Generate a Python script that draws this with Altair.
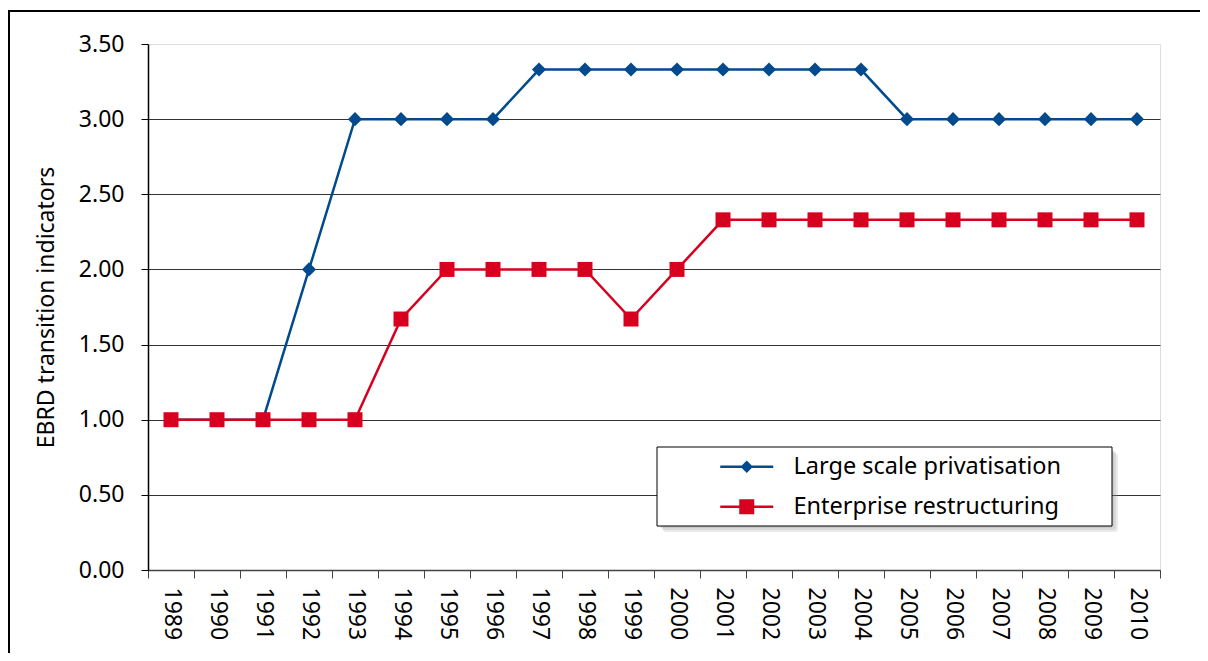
import altair as alt
import pandas as pd

years = list(range(1989, 2011))
privatisation = [1.00, 1.00, 1.00, 2.00, 3.00, 3.00, 3.00, 3.00, 3.33, 3.33, 3.33,
                 3.33, 3.33, 3.33, 3.33, 3.33, 3.00, 3.00, 3.00, 3.00, 3.00, 3.00]
restructuring = [1.00, 1.00, 1.00, 1.00, 1.00, 1.67, 2.00, 2.00, 2.00, 2.00, 1.67,
                 2.00, 2.33, 2.33, 2.33, 2.33, 2.33, 2.33, 2.33, 2.33, 2.33, 2.33]
series_names = ["Large scale privatisation", "Enterprise restructuring"]
series_colors = ["#004a8d", "#d7001f"]
y_ticks = [0.0, 0.5, 1.0, 1.5, 2.0, 2.5, 3.0, 3.5]

FONT = "Noto Sans"

# legend symbols: line + marker (custom paths, unit = 10 px)
diamond_path = ("M-2.65,-0.12 L2.65,-0.12 L2.65,0.12 L-2.65,0.12 Z "
                "M0,-0.62 L0.62,0 L0,0.62 L-0.62,0 Z")
square_path = ("M-2.65,-0.12 L2.65,-0.12 L2.65,0.12 L-2.65,0.12 Z "
               "M-0.75,-0.75 L0.75,-0.75 L0.75,0.75 L-0.75,0.75 Z")

x_enc = alt.X("year:O", title=None, bandPosition=0.5,
              scale=alt.Scale(type="band", paddingInner=0, paddingOuter=0),
              axis=alt.Axis(labelAngle=90, tickBand="extent", labelFontSize=23,
                            labelColor="black", labelFont=FONT, tickSize=8,
                            tickColor="#444444", domainColor="#444444",
                            domainWidth=1.5, labelPadding=9, grid=False))
y_enc = alt.Y("value:Q", title="EBRD transition indicators",
              scale=alt.Scale(domain=[0, 3.5], nice=False, zero=True),
              axis=alt.Axis(values=y_ticks, format=".2f", labelFontSize=23,
                            labelColor="black", labelFont=FONT, tickSize=7,
                            tickColor="black", domainColor="black", domainWidth=1.5,
                            labelPadding=17, titleFontSize=23, titleFont=FONT,
                            titleFontWeight="normal", titleColor="black",
                            titlePadding=20, gridColor="#333333", gridWidth=1,
                            gridOpacity=alt.condition("datum.value >= 3.5",
                                                      alt.value(0), alt.value(1))))


def series_layer(name, vals, color, shape, size, sym_path, leg_y):
    d = pd.DataFrame({"year": [str(y) for y in years], "value": vals,
                      "series": [name] * len(years)})
    legend = alt.Legend(
        title=None, orient="none", legendX=587, legendY=leg_y,
        symbolSize=400, symbolType=sym_path, symbolFillColor=color,
        symbolStrokeColor=color, symbolStrokeWidth=0, symbolOpacity=1,
        labelOffset=35, labelFontSize=23.5, labelFont=FONT, labelColor="black",
        padding=0, labelLimit=400)
    col = alt.Color("series:N", scale=alt.Scale(domain=[name], range=[color]),
                    legend=legend)
    line = alt.Chart(d).mark_line(strokeWidth=2.5).encode(x=x_enc, y=y_enc, color=col)
    pts = alt.Chart(d).mark_point(filled=True, opacity=1, shape=shape, size=size).encode(
        x=x_enc, y=y_enc, color=col)
    return alt.layer(line, pts)


blue = series_layer(series_names[0], privatisation, series_colors[0], "diamond", 200,
                    diamond_path, 411)
red = series_layer(series_names[1], restructuring, series_colors[1], "square", 225,
                   square_path, 451)

one = alt.Data(values=[{"k": 1}])
frame = alt.Chart(one).mark_rect(fill=None, stroke="black", strokeWidth=2).encode(
    x=alt.value(-139), x2=alt.value(1400), y=alt.value(-33), y2=alt.value(900))
shadow = alt.layer(*[
    alt.Chart(one).mark_rect(fill="#888888", opacity=0.18, cornerRadius=3).encode(
        x=alt.value(509 + d), x2=alt.value(964 + d),
        y=alt.value(403 + d), y2=alt.value(482 + d))
    for d in (2, 4, 6)
])
box = alt.Chart(one).mark_rect(fill="white", stroke="black", strokeWidth=1).encode(
    x=alt.value(509), x2=alt.value(964), y=alt.value(403), y2=alt.value(482))

chart = alt.layer(frame, blue, red, shadow, box).resolve_scale(
    color="independent"
).properties(
    width=1012, height=526,
    autosize=alt.AutoSizeParams(type="none"),
    padding={"left": 140, "top": 36, "right": 40, "bottom": 83},
).configure_view(stroke="#a6a6a6", strokeWidth=2).configure(font=FONT)

chart.save("out.html", embed_options={"renderer": "svg", "actions": False})
